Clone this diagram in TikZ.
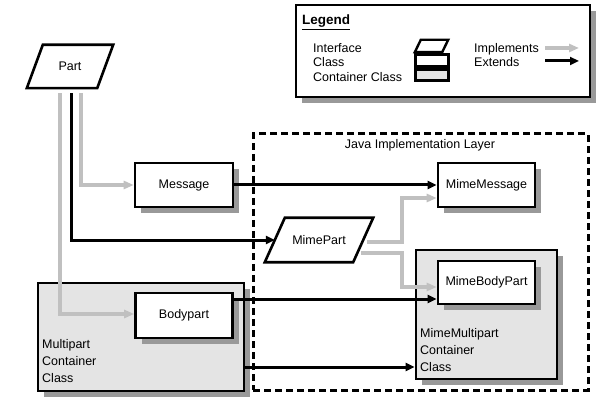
\documentclass[tikz,border=0pt]{standalone}
\usepackage{fontspec}
\setmainfont{Liberation Sans}
\usetikzlibrary{shadows,arrows.meta}
\definecolor{implgray}{HTML}{C0C0C0}
\definecolor{shadowgray}{HTML}{999999}
\definecolor{contfill}{HTML}{E4E4E4}
\tikzset{
  shad/.style={drop shadow={shadow xshift=6pt,shadow yshift=-6pt,fill=shadowgray,opacity=1}},
  classbox/.style={draw,line width=2.6pt,fill=white,shad,inner sep=0pt},
  contbox/.style={draw,line width=2.6pt,fill=contfill,shad,inner sep=0pt},
  ifacebox/.style={inner sep=0pt},
  paraline/.style={draw,line width=2.6pt,fill=white,line join=miter},
  parashadow/.style={fill=shadowgray,shift={(6,6)}},
  impl/.style={draw=implgray,line width=4pt,-{Triangle[length=10pt,width=8pt]}},
  ext/.style={draw=black,line width=3pt,-{Triangle[length=9pt,width=8pt]}},
  lbl/.style={inner sep=0pt},
  every node/.append style={font=\fontsize{12.5}{17}\selectfont}
}
\begin{document}
\begin{tikzpicture}[x=1pt,y=-1pt]
\useasboundingbox[fill=white] (0,0) rectangle (611,417);
% legend
\node[draw,line width=2.6pt,fill=white,shad,minimum width=294pt,minimum height=92pt] (legend) at (443,51) {};
\node[lbl,anchor=west] (legtitle) at (302,22) {\fontsize{13.5}{17}\selectfont\underline{\textbf{Legend}}};
\node[lbl,anchor=west] (legiface) at (313,48) {Interface};
\node[lbl,anchor=west] (legclass) at (313,62) {Class};
\node[lbl,anchor=west] (legcont) at (313,77) {Container Class};
\node[inner sep=0pt,minimum width=33pt,minimum height=12pt] (legifaceicon) at (431.5,46) {};
\path[draw,line width=2.4pt,fill=white] (legifaceicon.south west) -- ([xshift=6pt]legifaceicon.north west) -- (legifaceicon.north east) -- ([xshift=-6pt]legifaceicon.south east) -- cycle;
\node[draw,line width=2.4pt,fill=white,inner sep=0pt,minimum width=33pt,minimum height=12pt] (legclassicon) at (432,60.5) {};
\node[draw,line width=2.4pt,fill=contfill,inner sep=0pt,minimum width=33pt,minimum height=11pt] (legconticon) at (432,75) {};
\node[lbl,anchor=west] (legimpl) at (474,49) {Implements};
\node[lbl,anchor=west] (legext) at (474,62) {Extends};
\coordinate (li1) at (545,48);
\coordinate (li2) at (579,48);
\coordinate (le1) at (545,61);
\coordinate (le2) at (579,61);
\draw[impl] (li1) -- (li2);
\draw[ext] (le1) -- (le2);
% java layer
\node[draw,line width=3pt,dash pattern=on 7pt off 4pt,minimum width=335pt,minimum height=256pt] (javalayer) at (420.5,262) {};
\node[lbl] (javatitle) at (420,145) {Java Implementation Layer};
% containers
\node[contbox,minimum width=206pt,minimum height=108pt] (multipart) at (141,337) {};
\node[lbl,anchor=west,align=left] (multitext) at (42,361) {Multipart\\Container\\Class};
\node[contbox,minimum width=141pt,minimum height=129pt] (mimemultipart) at (486.5,314.5) {};
\node[lbl,anchor=west,align=left] (mimemultitext) at (420,350) {MimeMultipart\\Container\\Class};
% classes
\node[classbox,minimum width=98pt,minimum height=44pt] (message) at (184,185) {Message};
\node[classbox,minimum width=97pt,minimum height=44pt] (mimemessage) at (486.5,185) {MimeMessage};
\node[classbox,minimum width=97pt,minimum height=45pt] (bodypart) at (184,315.5) {Bodypart};
\node[classbox,minimum width=97pt,minimum height=43pt] (mimebodypart) at (486.5,282.5) {MimeBodyPart};
% interfaces (outline nodes)
\node[ifacebox,minimum width=86pt,minimum height=43pt] (part) at (70,66.5) {};
\node[ifacebox,minimum width=108pt,minimum height=44pt] (mimepart) at (319,240) {};
% connectors
\draw[impl] ([xshift=11pt,yshift=-5pt]part.south) |- (message.west);
\draw[ext] ([xshift=1pt,yshift=-5pt]part.south) |- ([xshift=10pt]mimepart.west);
\draw[impl] ([xshift=-10pt,yshift=-5pt]part.south) |- ([yshift=1.5pt]bodypart.west);
\draw[ext] (message.east) -- (mimemessage.west);
\draw[impl] ([xshift=-6pt,yshift=-2pt]mimepart.east) -- (402,242) |- ([yshift=-13pt]mimemessage.west);
\draw[impl] ([xshift=-12pt,yshift=-13pt]mimepart.east) -- (402,253) |- ([yshift=-4.5pt]mimebodypart.west);
\draw[ext] ([yshift=16.5pt]bodypart.east) -- ([yshift=-16.5pt]mimebodypart.west);
\draw[ext] ([yshift=-30pt]multipart.east) -- ([yshift=-52.5pt]mimemultipart.west);
% interface shapes drawn over connector starts
\path[parashadow] (part.south west) -- ([xshift=16pt]part.north west) -- (part.north east) -- ([xshift=-16pt]part.south east) -- cycle;
\path[paraline] (part.south west) -- ([xshift=16pt]part.north west) -- (part.north east) -- ([xshift=-16pt]part.south east) -- cycle;
\node[lbl] (parttext) at (part.center) {Part};
\path[parashadow] (mimepart.south west) -- ([xshift=20pt]mimepart.north west) -- (mimepart.north east) -- ([xshift=-20pt]mimepart.south east) -- cycle;
\path[paraline] (mimepart.south west) -- ([xshift=20pt]mimepart.north west) -- (mimepart.north east) -- ([xshift=-20pt]mimepart.south east) -- cycle;
\node[lbl] (mimeparttext) at (mimepart.center) {MimePart};
\end{tikzpicture}
\end{document}
